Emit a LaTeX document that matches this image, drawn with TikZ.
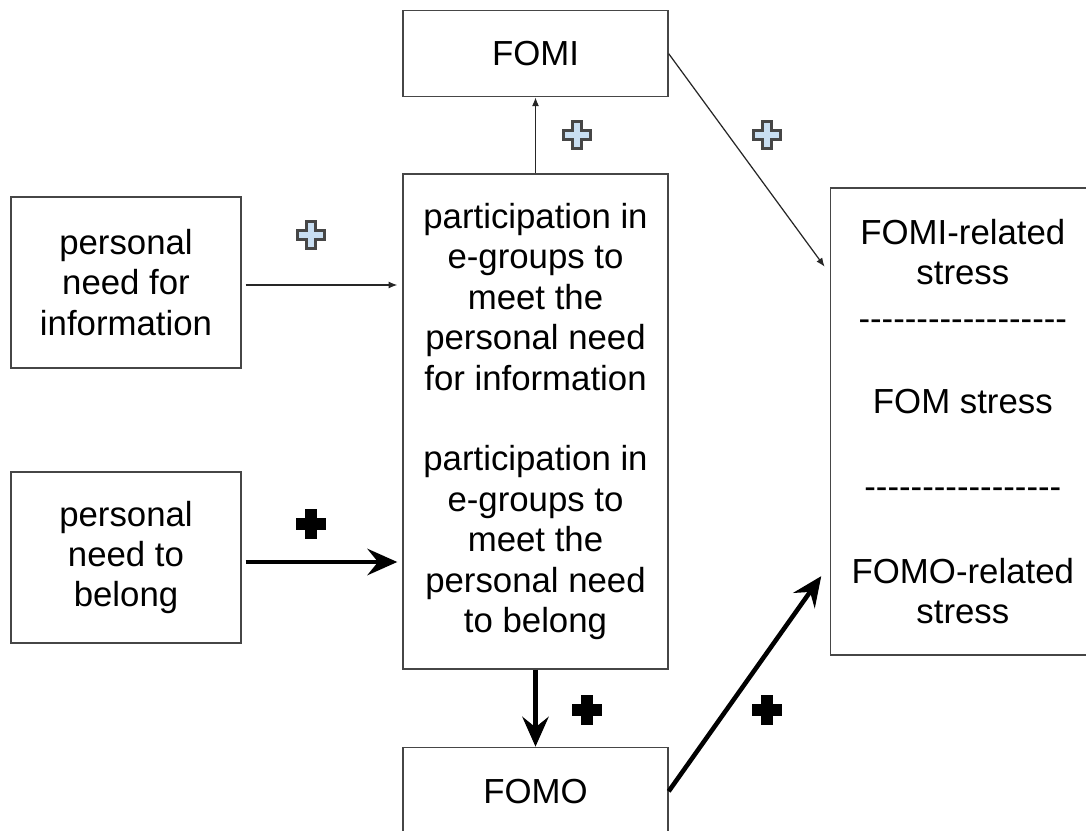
\documentclass[tikz,border=0pt]{standalone}
\usepackage{fontspec}
\setmainfont{Liberation Sans}
\usetikzlibrary{arrows.meta,positioning}
\definecolor{boxline}{RGB}{70,70,70}
\definecolor{pluslight}{RGB}{200,222,242}
\newcommand\dashrow[1]{\foreach \k in {1,...,#1}{-\kern0pt}}

\begin{document}
\begin{tikzpicture}[
    x=0.02cm, y=-0.02cm,
    block/.style={rectangle,draw=boxline,line width=0.8pt,minimum width=5.3cm,align=center,font=\fontsize{19.8pt}{23pt}\selectfont},
    sidebox/.style={block,minimum width=4.6cm,minimum height=3.42cm},
    thinarrow/.style={-{Latex[length=5pt,width=4pt]},line width=0.7pt,draw=black!85},
    thickarrow/.style={-{Stealth[length=17pt,width=15pt,inset=6pt]},line width=2.6pt},
    lightplus/.style={fill=pluslight,draw=boxline,line width=1.2pt},
    darkplus/.style={fill=black,draw=black,line width=2pt},
    pics/plusmark/.style={code={
        \draw[#1] (-4.5,-13.5) -- (4.5,-13.5) -- (4.5,-4.5) -- (13.5,-4.5) -- (13.5,4.5) -- (4.5,4.5)
            -- (4.5,13.5) -- (-4.5,13.5) -- (-4.5,4.5) -- (-13.5,4.5) -- (-13.5,-4.5) -- (-4.5,-4.5) -- cycle;
    }}
]
\clip (0,0) rectangle (1086,831);

% boxes
\node[block,minimum height=9.9cm] (part) at (535.5,421.5) {participation in\\e-groups to\\meet the\\personal need\\for information\\[23pt]participation in\\e-groups to\\meet the\\personal need\\to belong};
\node[block,minimum height=1.72cm,above=1.52cm of part] (fomi) {FOMI};
\node[block,minimum height=1.76cm,below=1.54cm of part] (fomo) {FOMO};
\node[block,minimum height=9.34cm,right=3.22cm of part] (stress) {FOMI-related\\stress\\[0.1cm]\dashrow{18}\\[0.86cm]FOM stress\\[0.9cm]\dashrow{17}\\[0.88cm]FOMO-related\\stress};
\node[sidebox] (info) at (126,282.5) {personal\\need for\\information};
\node[sidebox] (belong) at (126,557.5) {personal\\need to\\belong};

% arrows
\draw[thinarrow] (part) -- (fomi);
\draw[thinarrow,shorten <=0.08cm,shorten >=0.1cm] ([yshift=-0.05cm]info.east) -- ([yshift=-0.05cm]info.east -| part.west);
\draw[thickarrow,shorten <=0.08cm,shorten >=0.1cm] ([yshift=-0.09cm]belong.east) -- ([yshift=-0.09cm]belong.east -| part.west);
\draw[thickarrow] (part) -- (fomo);
\draw[thinarrow,shorten >=0.17cm] (fomi.east) -- (stress.132.7);
\draw[thickarrow,shorten >=0.29cm] (fomo.east) -- (stress.227.5);

% plus signs
\pic at (577,135) {plusmark=lightplus};
\pic at (767,135) {plusmark=lightplus};
\pic at (311,235) {plusmark=lightplus};
\pic at (311,524) {plusmark=darkplus};
\pic at (587,710) {plusmark=darkplus};
\pic at (767,710) {plusmark=darkplus};
\end{tikzpicture}
\end{document}
